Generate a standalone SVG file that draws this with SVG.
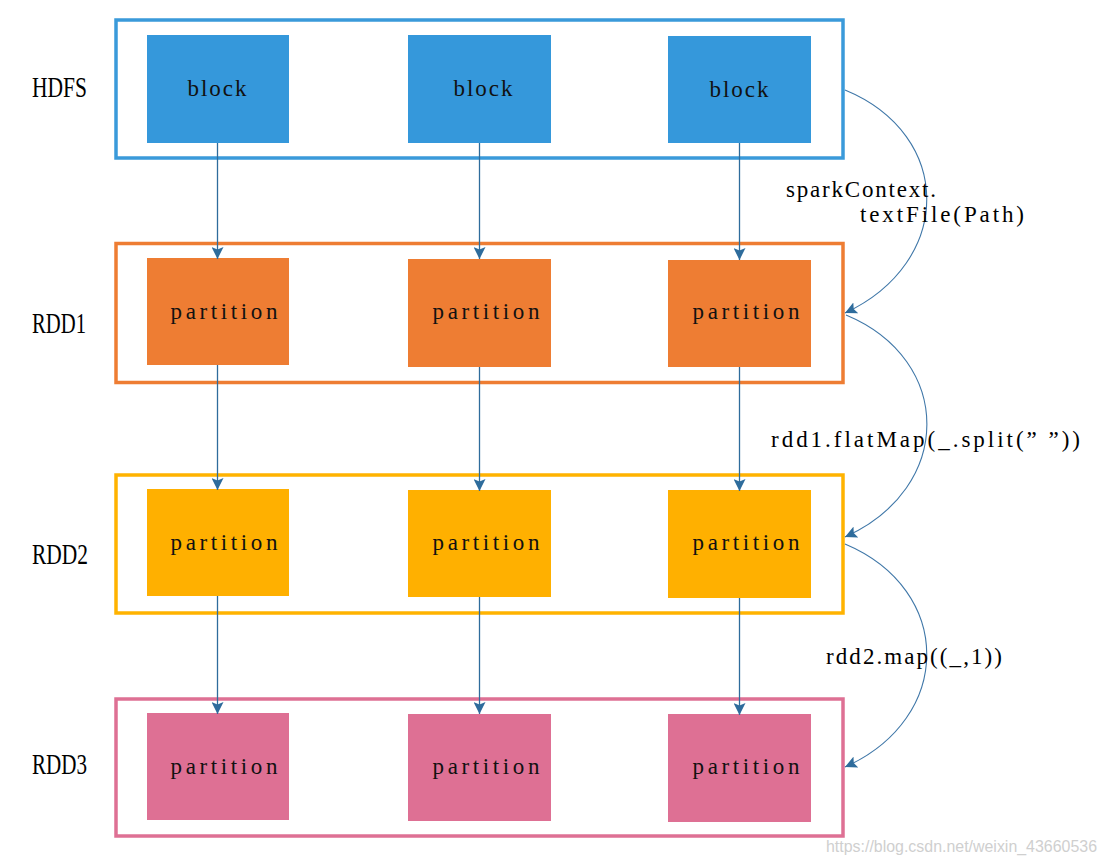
<svg xmlns="http://www.w3.org/2000/svg" width="1107" height="865" viewBox="0 0 1107 865">
<style>
.lbl{font-family:"Liberation Serif",serif;font-size:29px;fill:#000}
.mono{font-family:"Liberation Serif",serif;font-size:23px;fill:#111}
.op{font-family:"Liberation Serif",serif;font-size:23px;fill:#000}
.frame{fill:none;stroke-width:3.5}
.v{stroke:#2e6c9c;stroke-width:1.3;fill:none}
.c{stroke:#3f77a8;stroke-width:1.1;fill:none}
.wm{font-family:"Liberation Sans",sans-serif;font-size:16px;fill:#cfcfcf}
</style>
<defs>
<marker id="ah" markerUnits="userSpaceOnUse" markerWidth="12" markerHeight="12" viewBox="0 0 10 10" refX="10" refY="5" orient="auto">
<path d="M0,0 L10,5 L0,10 L2,5 z" fill="#2e6c9c"/>
</marker>
</defs>
<rect width="1107" height="865" fill="#fff"/>

<g id="hdfs">
<rect class="frame" x="116" y="20" width="727" height="138" stroke="#3a9ada"/>
<text class="lbl" x="32" y="97" textLength="55" lengthAdjust="spacingAndGlyphs">HDFS</text>
</g>
<g id="hdfs-block1"><rect x="147" y="35" width="142" height="108" fill="#3598db"/><text class="mono" x="217" y="96" text-anchor="middle" textLength="59">block</text></g>
<g id="hdfs-block2"><rect x="408" y="35" width="143" height="108" fill="#3598db"/><text class="mono" x="483" y="96" text-anchor="middle" textLength="59">block</text></g>
<g id="hdfs-block3"><rect x="668" y="36" width="143" height="107" fill="#3598db"/><text class="mono" x="739" y="97" text-anchor="middle" textLength="59">block</text></g>

<g id="rdd1">
<rect class="frame" x="116" y="243.5" width="727" height="139" stroke="#ee7d33"/>
<text class="lbl" x="32" y="333" textLength="54" lengthAdjust="spacingAndGlyphs">RDD1</text>
</g>
<g id="rdd1-p1"><rect x="147" y="258" width="142" height="107" fill="#ee7d33"/><text class="mono" x="224" y="319" text-anchor="middle" textLength="107">partition</text></g>
<g id="rdd1-p2"><rect x="408" y="259" width="143" height="108" fill="#ee7d33"/><text class="mono" x="486" y="319" text-anchor="middle" textLength="107">partition</text></g>
<g id="rdd1-p3"><rect x="668" y="260" width="143" height="107" fill="#ee7d33"/><text class="mono" x="746" y="319" text-anchor="middle" textLength="107">partition</text></g>

<g id="rdd2">
<rect class="frame" x="116" y="475" width="727" height="138" stroke="#ffb300"/>
<text class="lbl" x="32" y="564" textLength="56" lengthAdjust="spacingAndGlyphs">RDD2</text>
</g>
<g id="rdd2-p1"><rect x="147" y="489" width="142" height="107" fill="#ffb000"/><text class="mono" x="224" y="550" text-anchor="middle" textLength="107">partition</text></g>
<g id="rdd2-p2"><rect x="408" y="490" width="143" height="107" fill="#ffb000"/><text class="mono" x="486" y="550" text-anchor="middle" textLength="107">partition</text></g>
<g id="rdd2-p3"><rect x="668" y="490" width="143" height="108" fill="#ffb000"/><text class="mono" x="746" y="550" text-anchor="middle" textLength="107">partition</text></g>

<g id="rdd3">
<rect class="frame" x="116" y="699" width="727" height="137" stroke="#de7094"/>
<text class="lbl" x="32" y="774" textLength="55" lengthAdjust="spacingAndGlyphs">RDD3</text>
</g>
<g id="rdd3-p1"><rect x="147" y="713" width="142" height="107" fill="#de7094"/><text class="mono" x="224" y="774" text-anchor="middle" textLength="107">partition</text></g>
<g id="rdd3-p2"><rect x="408" y="714" width="143" height="107" fill="#de7094"/><text class="mono" x="486" y="774" text-anchor="middle" textLength="107">partition</text></g>
<g id="rdd3-p3"><rect x="668" y="714" width="143" height="108" fill="#de7094"/><text class="mono" x="746" y="774" text-anchor="middle" textLength="107">partition</text></g>

<g id="connectors">
<line class="v" x1="217.5" y1="143" x2="217.5" y2="259" marker-end="url(#ah)"/>
<line class="v" x1="479.5" y1="143" x2="479.5" y2="259" marker-end="url(#ah)"/>
<line class="v" x1="739.5" y1="143" x2="739.5" y2="260" marker-end="url(#ah)"/>
<line class="v" x1="217.5" y1="365" x2="217.5" y2="490" marker-end="url(#ah)"/>
<line class="v" x1="479.5" y1="367" x2="479.5" y2="491" marker-end="url(#ah)"/>
<line class="v" x1="739.5" y1="367" x2="739.5" y2="491" marker-end="url(#ah)"/>
<line class="v" x1="217.5" y1="596" x2="217.5" y2="714" marker-end="url(#ah)"/>
<line class="v" x1="479.5" y1="597" x2="479.5" y2="714" marker-end="url(#ah)"/>
<line class="v" x1="739.5" y1="598" x2="739.5" y2="715" marker-end="url(#ah)"/>
<path class="c" d="M845,90 C954,135 954,262 845,313" marker-end="url(#ah)"/>
<path class="c" d="M846,315 C954,360 954,488 845,537" marker-end="url(#ah)"/>
<path class="c" d="M845,544 C954,590 954,718 845,767" marker-end="url(#ah)"/>
<text class="op" x="786" y="197" textLength="150">sparkContext.</text>
<text class="op" x="860" y="222" textLength="164">textFile(Path)</text>
<text class="op" x="771" y="447" textLength="309">rdd1.flatMap(_.split(” ”))</text>
<text class="op" x="826" y="664" textLength="176">rdd2.map((_,1))</text>
</g>
<text class="wm" x="826" y="852" textLength="271" lengthAdjust="spacingAndGlyphs">https://blog.csdn.net/weixin_43660536</text>
</svg>
